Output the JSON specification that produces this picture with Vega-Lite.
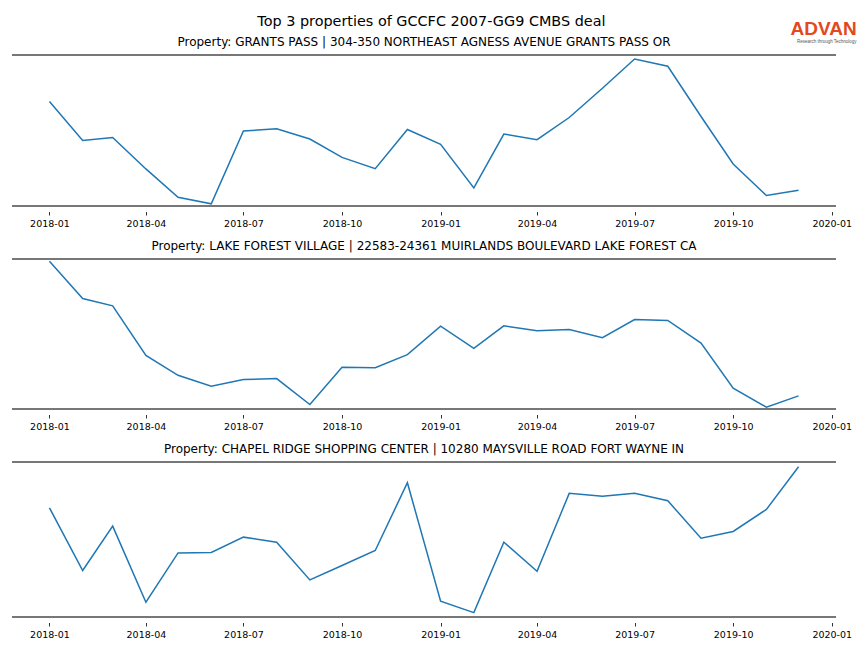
{
  "$schema": "https://vega.github.io/schema/vega-lite/v6.json",
  "padding": {"left": 11, "top": 13, "right": 5, "bottom": 5},
  "background": "white",
  "config": {"font": "DejaVu Sans", "view": {"stroke": null}},
  "datasets": {
    "p1": [
      {"month": "2018-01-01T00:00", "visits": 1048}, {"month": "2018-02-01T00:00", "visits": 658}, {"month": "2018-03-01T00:00", "visits": 688},
      {"month": "2018-04-01T00:00", "visits": 372}, {"month": "2018-05-01T00:00", "visits": 88}, {"month": "2018-06-01T00:00", "visits": 22},
      {"month": "2018-07-01T00:00", "visits": 752}, {"month": "2018-08-01T00:00", "visits": 775}, {"month": "2018-09-01T00:00", "visits": 672},
      {"month": "2018-10-01T00:00", "visits": 488}, {"month": "2018-11-01T00:00", "visits": 375}, {"month": "2018-12-01T00:00", "visits": 768},
      {"month": "2019-01-01T00:00", "visits": 618}, {"month": "2019-02-01T00:00", "visits": 182}, {"month": "2019-03-01T00:00", "visits": 722},
      {"month": "2019-04-01T00:00", "visits": 665}, {"month": "2019-05-01T00:00", "visits": 888}, {"month": "2019-06-01T00:00", "visits": 1182},
      {"month": "2019-07-01T00:00", "visits": 1475}, {"month": "2019-08-01T00:00", "visits": 1402}, {"month": "2019-09-01T00:00", "visits": 898},
      {"month": "2019-10-01T00:00", "visits": 422}, {"month": "2019-11-01T00:00", "visits": 105}, {"month": "2019-12-01T00:00", "visits": 158}
    ],
    "p2": [
      {"month": "2018-01-01T00:00", "visits": 1482}, {"month": "2018-02-01T00:00", "visits": 1108}, {"month": "2018-03-01T00:00", "visits": 1035},
      {"month": "2018-04-01T00:00", "visits": 538}, {"month": "2018-05-01T00:00", "visits": 338}, {"month": "2018-06-01T00:00", "visits": 228},
      {"month": "2018-07-01T00:00", "visits": 295}, {"month": "2018-08-01T00:00", "visits": 305}, {"month": "2018-09-01T00:00", "visits": 45},
      {"month": "2018-10-01T00:00", "visits": 418}, {"month": "2018-11-01T00:00", "visits": 415}, {"month": "2018-12-01T00:00", "visits": 545},
      {"month": "2019-01-01T00:00", "visits": 832}, {"month": "2019-02-01T00:00", "visits": 608}, {"month": "2019-03-01T00:00", "visits": 835},
      {"month": "2019-04-01T00:00", "visits": 785}, {"month": "2019-05-01T00:00", "visits": 798}, {"month": "2019-06-01T00:00", "visits": 715},
      {"month": "2019-07-01T00:00", "visits": 898}, {"month": "2019-08-01T00:00", "visits": 888}, {"month": "2019-09-01T00:00", "visits": 662},
      {"month": "2019-10-01T00:00", "visits": 208}, {"month": "2019-11-01T00:00", "visits": 18}, {"month": "2019-12-01T00:00", "visits": 132}
    ],
    "p3": [
      {"month": "2018-01-01T00:00", "visits": 1090}, {"month": "2018-02-01T00:00", "visits": 464}, {"month": "2018-03-01T00:00", "visits": 907},
      {"month": "2018-04-01T00:00", "visits": 147}, {"month": "2018-05-01T00:00", "visits": 640}, {"month": "2018-06-01T00:00", "visits": 644},
      {"month": "2018-07-01T00:00", "visits": 797}, {"month": "2018-08-01T00:00", "visits": 747}, {"month": "2018-09-01T00:00", "visits": 370},
      {"month": "2018-10-01T00:00", "visits": 514}, {"month": "2018-11-01T00:00", "visits": 664}, {"month": "2018-12-01T00:00", "visits": 1340},
      {"month": "2019-01-01T00:00", "visits": 157}, {"month": "2019-02-01T00:00", "visits": 44}, {"month": "2019-03-01T00:00", "visits": 747},
      {"month": "2019-04-01T00:00", "visits": 457}, {"month": "2019-05-01T00:00", "visits": 1234}, {"month": "2019-06-01T00:00", "visits": 1204},
      {"month": "2019-07-01T00:00", "visits": 1234}, {"month": "2019-08-01T00:00", "visits": 1160}, {"month": "2019-09-01T00:00", "visits": 787},
      {"month": "2019-10-01T00:00", "visits": 854}, {"month": "2019-11-01T00:00", "visits": 1074}, {"month": "2019-12-01T00:00", "visits": 1500}
    ]
  },
  "title": {
    "text": "ADVAN", "subtitle": "Research through Technology", "anchor": "end", "orient": "top", "offset": -30, "dx": 5,
    "font": "Liberation Sans", "fontSize": 19, "fontWeight": "bold", "color": "#e2491d",
    "subtitleFont": "Liberation Sans", "subtitleFontSize": 4.5, "subtitleColor": "#555555", "subtitlePadding": 0
  },
  "vconcat": [
    {
      "title": {"text": "Top 3 properties of GCCFC 2007-GG9 CMBS deal", "fontSize": 14.4, "fontWeight": "normal", "color": "#000000", "anchor": "middle", "offset": 7},
      "spacing": 53,
      "bounds": "flush",
      "vconcat": [
        {
          "title": {"text": "Property: GRANTS PASS | 304-350 NORTHEAST AGNESS AVENUE GRANTS PASS OR", "fontSize": 12, "fontWeight": "normal", "color": "#000000", "frame": "group", "anchor": "middle", "offset": 5},
          "width": 824, "height": 151,
          "data": {"name": "p1"},
          "layer": [
            {
              "mark": {"type": "line", "color": "#1f77b4", "strokeWidth": 1.5},
              "encoding": {
                "x": {"field": "month", "type": "temporal",
                  "scale": {"domain": [{"year": 2017, "month": 11, "date": 27, "hours": 1, "minutes": 12}, {"year": 2020, "month": 1, "date": 4, "hours": 22, "minutes": 48}]},
                  "axis": {"values": [{"year": 2018, "month": 1, "date": 1}, {"year": 2018, "month": 4, "date": 1}, {"year": 2018, "month": 7, "date": 1}, {"year": 2018, "month": 10, "date": 1}, {"year": 2019, "month": 1, "date": 1}, {"year": 2019, "month": 4, "date": 1}, {"year": 2019, "month": 7, "date": 1}, {"year": 2019, "month": 10, "date": 1}, {"year": 2020, "month": 1, "date": 1}],
                    "format": "%Y-%m", "title": null, "domain": false, "grid": false, "offset": 5.5, "tickSize": 3.5, "tickColor": "#000000", "tickWidth": 0.8,
                    "labelFontSize": 9.5, "labelColor": "#000000", "labelPadding": 3.5, "labelFlush": false, "labelOverlap": false}},
                "y": {"field": "visits", "type": "quantitative", "scale": {"domain": [0, 1515], "nice": false, "zero": false}, "axis": null}
              }
            },
            {"data": {"values": [{}]}, "mark": {"type": "rule", "color": "#4a4a4a", "strokeWidth": 1.6}, "encoding": {"y": {"datum": 0}}},
            {"data": {"values": [{}]}, "mark": {"type": "rule", "color": "#4a4a4a", "strokeWidth": 1.6}, "encoding": {"y": {"datum": 1515}}}
          ]
        },
        {
          "title": {"text": "Property: LAKE FOREST VILLAGE | 22583-24361 MUIRLANDS BOULEVARD LAKE FOREST CA", "fontSize": 12, "fontWeight": "normal", "color": "#000000", "frame": "group", "anchor": "middle", "offset": 5},
          "width": 824, "height": 150,
          "data": {"name": "p2"},
          "layer": [
            {
              "mark": {"type": "line", "color": "#1f77b4", "strokeWidth": 1.5},
              "encoding": {
                "x": {"field": "month", "type": "temporal",
                  "scale": {"domain": [{"year": 2017, "month": 11, "date": 27, "hours": 1, "minutes": 12}, {"year": 2020, "month": 1, "date": 4, "hours": 22, "minutes": 48}]},
                  "axis": {"values": [{"year": 2018, "month": 1, "date": 1}, {"year": 2018, "month": 4, "date": 1}, {"year": 2018, "month": 7, "date": 1}, {"year": 2018, "month": 10, "date": 1}, {"year": 2019, "month": 1, "date": 1}, {"year": 2019, "month": 4, "date": 1}, {"year": 2019, "month": 7, "date": 1}, {"year": 2019, "month": 10, "date": 1}, {"year": 2020, "month": 1, "date": 1}],
                    "format": "%Y-%m", "title": null, "domain": false, "grid": false, "offset": 5.5, "tickSize": 3.5, "tickColor": "#000000", "tickWidth": 0.8,
                    "labelFontSize": 9.5, "labelColor": "#000000", "labelPadding": 3.5, "labelFlush": false, "labelOverlap": false}},
                "y": {"field": "visits", "type": "quantitative", "scale": {"domain": [0, 1505], "nice": false, "zero": false}, "axis": null}
              }
            },
            {"data": {"values": [{}]}, "mark": {"type": "rule", "color": "#4a4a4a", "strokeWidth": 1.6}, "encoding": {"y": {"datum": 0}}},
            {"data": {"values": [{}]}, "mark": {"type": "rule", "color": "#4a4a4a", "strokeWidth": 1.6}, "encoding": {"y": {"datum": 1505}}}
          ]
        },
        {
          "title": {"text": "Property: CHAPEL RIDGE SHOPPING CENTER | 10280 MAYSVILLE ROAD FORT WAYNE IN", "fontSize": 12, "fontWeight": "normal", "color": "#000000", "frame": "group", "anchor": "middle", "offset": 5},
          "width": 824, "height": 155,
          "data": {"name": "p3"},
          "layer": [
            {
              "mark": {"type": "line", "color": "#1f77b4", "strokeWidth": 1.5},
              "encoding": {
                "x": {"field": "month", "type": "temporal",
                  "scale": {"domain": [{"year": 2017, "month": 11, "date": 27, "hours": 1, "minutes": 12}, {"year": 2020, "month": 1, "date": 4, "hours": 22, "minutes": 48}]},
                  "axis": {"values": [{"year": 2018, "month": 1, "date": 1}, {"year": 2018, "month": 4, "date": 1}, {"year": 2018, "month": 7, "date": 1}, {"year": 2018, "month": 10, "date": 1}, {"year": 2019, "month": 1, "date": 1}, {"year": 2019, "month": 4, "date": 1}, {"year": 2019, "month": 7, "date": 1}, {"year": 2019, "month": 10, "date": 1}, {"year": 2020, "month": 1, "date": 1}],
                    "format": "%Y-%m", "title": null, "domain": false, "grid": false, "offset": 5.5, "tickSize": 3.5, "tickColor": "#000000", "tickWidth": 0.8,
                    "labelFontSize": 9.5, "labelColor": "#000000", "labelPadding": 3.5, "labelFlush": false, "labelOverlap": false}},
                "y": {"field": "visits", "type": "quantitative", "scale": {"domain": [0, 1547], "nice": false, "zero": false}, "axis": null}
              }
            },
            {"data": {"values": [{}]}, "mark": {"type": "rule", "color": "#4a4a4a", "strokeWidth": 1.6}, "encoding": {"y": {"datum": 0}}},
            {"data": {"values": [{}]}, "mark": {"type": "rule", "color": "#4a4a4a", "strokeWidth": 1.6}, "encoding": {"y": {"datum": 1547}}}
          ]
        }
      ]
    }
  ]
}
